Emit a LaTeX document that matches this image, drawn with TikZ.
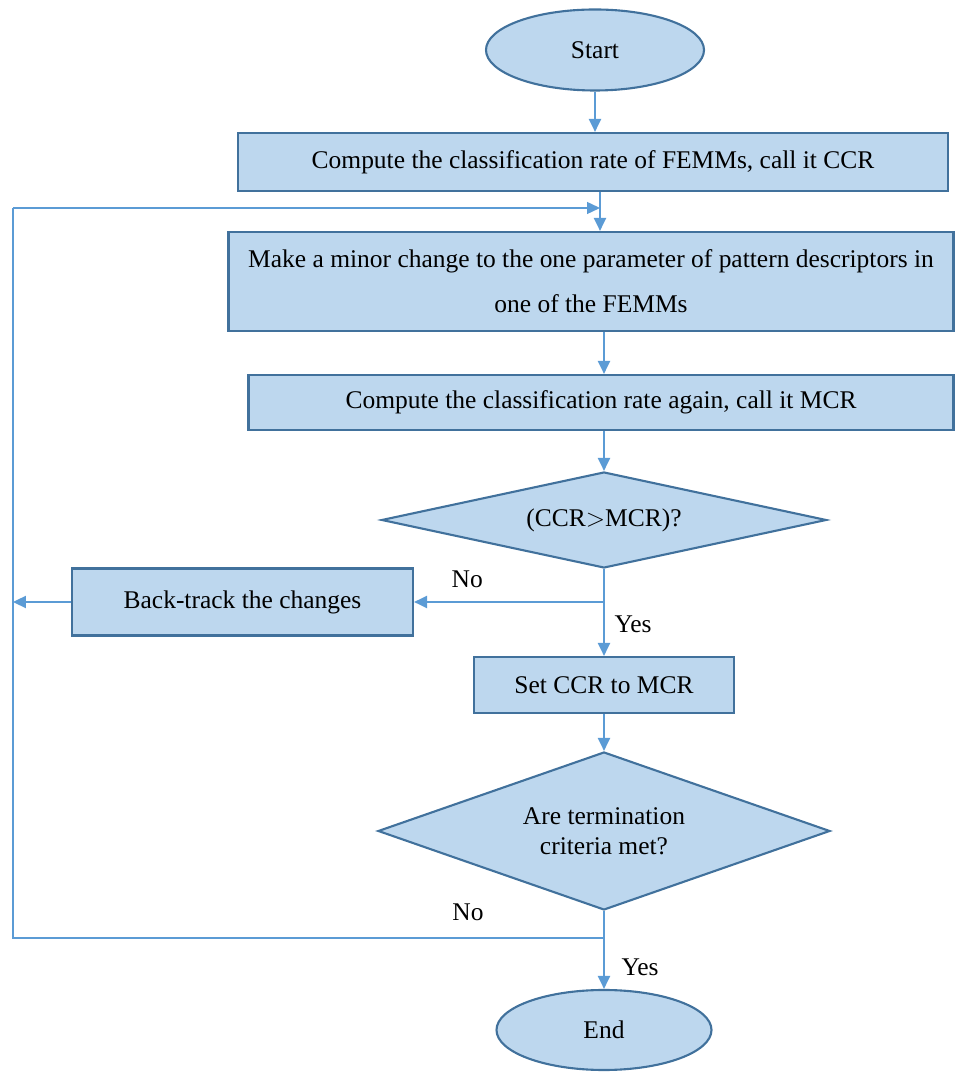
\documentclass[tikz,border=0pt]{standalone}
\usepackage{fontspec}
\setmainfont{Liberation Serif}
\usetikzlibrary{shapes.geometric,arrows.meta}
\definecolor{boxfill}{HTML}{BDD7EE}
\definecolor{boxline}{HTML}{41719C}
\definecolor{arrline}{HTML}{5B9BD5}

\begin{document}
\begin{tikzpicture}[font=\fontsize{14.5}{17}\selectfont,
  box/.style={rectangle,fill=boxfill,draw=boxline,line width=1.2pt,inner sep=0pt},
  oval/.style={ellipse,fill=boxfill,draw=boxline,line width=1.2pt,inner sep=0pt},
  decision/.style={diamond,fill=boxfill,draw=boxline,line width=1.2pt,inner sep=0pt,align=center},
  arr/.style={draw=arrline,line width=1.3pt,-{Triangle[length=2.6mm,width=2.4mm]}},
  thinline/.style={draw=arrline,line width=0.8pt},
  thinarr/.style={thinline,-{Triangle[length=2.6mm,width=2.4mm]}}]
\useasboundingbox (0,0) rectangle (19.1,21.44);
\node[oval,minimum width=4.36cm,minimum height=1.62cm] (start) at (11.9,20.44) {Start};
\node[box,minimum width=14.2cm,minimum height=1.16cm] (ccr) at (11.86,18.2) {Compute the classification rate of FEMMs, call it CCR};
\node[box,minimum width=14.5cm,minimum height=1.98cm,align=center,font=\fontsize{14.5}{25.6}\selectfont] (change) at (11.82,15.81) {Make a minor change to the one parameter of pattern descriptors in\\one of the FEMMs};
\node[box,minimum width=14.1cm,minimum height=1.1cm] (mcr) at (12.02,13.39) {Compute the classification rate again, call it MCR};
\node[decision,aspect=4.6,minimum width=8.9cm,minimum height=1.92cm] (dec1) at (12.08,11.04) {(CCR$>$MCR)?};
\node[box,minimum width=6.82cm,minimum height=1.34cm] (back) at (4.85,9.4) {Back-track the changes};
\node[box,minimum width=5.2cm,minimum height=1.12cm] (set) at (12.08,7.74) {Set CCR to MCR};
\node[decision,aspect=2.86,minimum width=9.04cm,minimum height=3.16cm] (dec2) at (12.08,4.82) {Are termination\\criteria met?};
\node[oval,minimum width=4.3cm,minimum height=1.6cm] (end) at (12.08,0.84) {End};
\coordinate (join) at (12.0,17.28);
\coordinate (lt) at (0.26,17.28);
\coordinate (lb) at (0.26,2.68);
% main flow
\draw[arr] (start.south) -- (start.south |- ccr.north);
\draw[arr] (join |- ccr.south) -- (join |- change.north);
\draw[arr] (dec1 |- change.south) -- (dec1 |- mcr.north);
\draw[arr] (dec1 |- mcr.south) -- (dec1.north);
\draw[arr] (dec1.south) -- (set.north) node[pos=0.64,right=2pt] {Yes};
\draw[arr] (dec1.south |- back.east) -- (back.east) node[pos=0.72,above=4pt] {No};
\draw[arr] (set.south) -- (dec2.north);
\draw[arr] (dec2.south) -- (end.north) node[pos=0.72,right=6pt] {Yes};
% loop back
\draw[arr] (back.west) -- (back.west -| lb);
\draw[thinline] (dec2.south |- lb) -- (lb) -- (lt);
\draw[thinarr] (lt) -- (join);
\node (no2) at (9.36,3.2) {No};
\end{tikzpicture}
\end{document}
